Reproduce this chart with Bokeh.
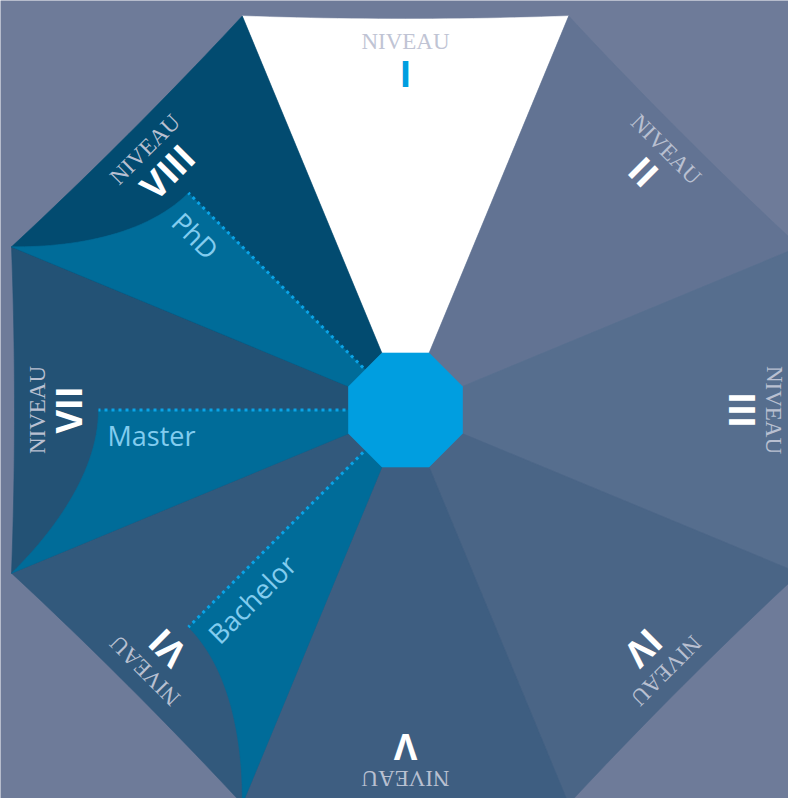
import numpy as np
from bokeh.plotting import figure
from bokeh.models import Range1d, ColumnDataSource
from bokeh.core.properties import value
from bokeh.embed import file_html
from bokeh.resources import INLINE

# ---- data ----
levels = ["I", "II", "III", "IV", "V", "VI", "VII", "VIII"]
level_word = "NIVEAU"
degrees = ["Bachelor", "Master", "PhD"]
degree_levels = ["VI", "VII", "VIII"]

# ---- styles ----
sector_colors = ["#ffffff", "#627393", "#566e8e", "#4a6586",
                 "#3e5e81", "#32597c", "#235275", "#024b70"]
numeral_colors = ["#009ee0"] + ["#ffffff"] * 7
word_colors = ["#c0c4d4"] + ["#b9c0d1"] * 7
BG = "#6e7b99"
DEGREE_FILL = "#006c99"
CENTER_FILL = "#009ee0"
DOT_COLOR = "#0aa3e6"
DEGREE_TEXT = "#82ccef"

W, H = 788, 798
CX, CY = 405.0, 409.5
R_OUT, R_IN = 394.0, 57.0
T = np.tan(np.pi / 8)
HALF_OUT, HALF_IN = R_OUT * T, R_IN * T


def frame(k):
    th = np.radians(45 * k)
    u = np.array([np.sin(th), -np.cos(th)])
    v = np.array([-np.cos(th), -np.sin(th)])
    return u, v


def to_xy(k, a, b):
    u, v = frame(k)
    a = np.asarray(a, float)
    b = np.asarray(b, float)
    sx = CX + a * u[0] + b * v[0]
    sy = CY + a * u[1] + b * v[1]
    return list(sx), list(H - sy)


p = figure(width=W, height=H, x_range=Range1d(0, W), y_range=Range1d(0, H),
           output_backend="svg", toolbar_location=None, min_border=0,
           x_axis_type=None, y_axis_type=None)
p.grid.visible = False
p.outline_line_color = None
p.background_fill_color = BG
p.border_fill_color = BG

# sectors
xs, ys = [], []
bb = np.linspace(HALF_OUT, -HALF_OUT, 25)
sag = 3.0
for k, lv in enumerate(levels):
    a = [R_IN, R_IN] + list(R_OUT - sag * (1 - (bb / HALF_OUT) ** 2))
    b = [-HALF_IN, HALF_IN] + list(bb)
    x, y = to_xy(k, a, b)
    xs.append(x)
    ys.append(y)
src = ColumnDataSource(dict(xs=xs, ys=ys, c=sector_colors))
p.patches("xs", "ys", source=src, fill_color="c", line_color="c", line_width=0.6)

# degree sub-regions
t = np.linspace(0, 1, 30)
P0, P1, P2, P3 = np.array([307, 0.0]), np.array([307, 60.0]), np.array([350, 120.0]), np.array([R_OUT, HALF_OUT])
curve = ((1 - t) ** 3)[:, None] * P0 + (3 * (1 - t) ** 2 * t)[:, None] * P1 + \
        (3 * (1 - t) * t ** 2)[:, None] * P2 + (t ** 3)[:, None] * P3
dxs, dys, lxs, lys = [], [], [], []
tx, ty, ta = [], [], []
for name, lv in zip(degrees, degree_levels):
    k = levels.index(lv)
    a = [R_IN] + list(curve[:, 0]) + [R_IN]
    b = [0.0] + list(curve[:, 1]) + [HALF_IN]
    x, y = to_xy(k, a, b)
    dxs.append(x)
    dys.append(y)
    x, y = to_xy(k, [60, 307], [0, 0])
    lxs.append(x)
    lys.append(y)
    x, y = to_xy(k, [298], [25.0])
    tx.append(x[0])
    ty.append(y[0])
    ta.append(np.radians(270 - 45 * k))
p.patches(dxs, dys, fill_color=DEGREE_FILL, line_color=DEGREE_FILL, line_width=0.6)
p.multi_line(lxs, lys, line_color=DOT_COLOR, line_width=3, line_dash="3 4")
p.text(tx, ty, text=degrees, angle=ta, text_font=value("Open Sans"),
       text_font_size=value("27px"), text_color=DEGREE_TEXT,
       text_align="left", text_baseline="alphabetic")

# center octagon
ang = np.radians(22.5 + 45 * np.arange(8))
rv = R_IN / np.cos(np.pi / 8)
p.patch(list(CX + rv * np.sin(ang)), list(H - (CY - rv * np.cos(ang))),
        fill_color=CENTER_FILL, line_color=CENTER_FILL, line_width=0.6)

# level labels
wx, wy, nx, ny, la = [], [], [], [], []
for k, lv in enumerate(levels):
    x, y = to_xy(k, [368.5], [0])
    wx.append(x[0]); wy.append(y[0])
    x, y = to_xy(k, [337.0], [0])
    nx.append(x[0]); ny.append(y[0])
    la.append(np.radians(-45 * k))
p.text(wx, wy, text=[level_word] * 8, angle=la, text_font=value("Liberation Serif"),
       text_font_size=value("23px"), text_color=word_colors,
       text_align="center", text_baseline="alphabetic")
p.text(nx, ny, text=levels, angle=la, text_font=value("Open Sans"),
       text_font_size=value("36px"), text_font_style="bold", text_color=numeral_colors,
       text_align="center", text_baseline="alphabetic")

open("out.html", "w").write(file_html(p, INLINE))
